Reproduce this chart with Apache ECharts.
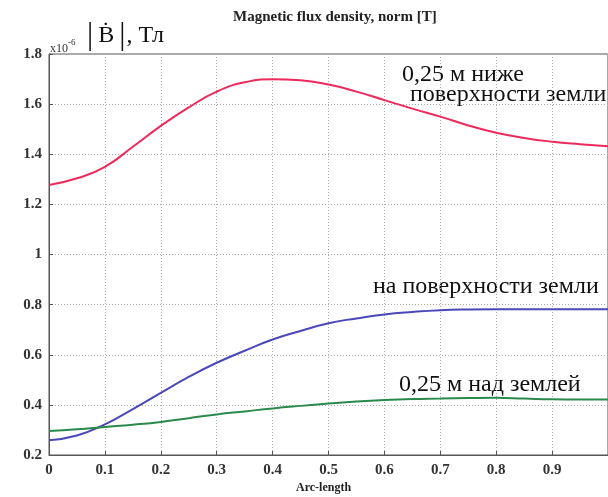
<!DOCTYPE html>
<html>
<head>
<meta charset="utf-8">
<script src="https://cdn.jsdelivr.net/npm/echarts@6/dist/echarts.min.js"></script>
<style>html,body{margin:0;padding:0;background:#fff;}#c{width:608px;height:497px;}</style>
</head>
<body>
<div id="c"></div>
<script>
const arcLength = [0,0.05,0.1,0.15,0.2,0.25,0.3,0.35,0.4,0.45,0.5,0.55,0.6,0.65,0.7,0.75,0.8,0.85,0.9,0.95,1.0];
const below025 = [1.277,1.304,1.35,1.43,1.513,1.587,1.65,1.687,1.699,1.695,1.678,1.65,1.616,1.582,1.55,1.515,1.486,1.465,1.45,1.44,1.432];
const surface = [0.259,0.278,0.322,0.383,0.448,0.512,0.568,0.616,0.661,0.695,0.726,0.745,0.761,0.771,0.778,0.781,0.782,0.782,0.782,0.782,0.782];
const above025 = [0.296,0.303,0.312,0.321,0.332,0.347,0.362,0.374,0.386,0.396,0.405,0.413,0.419,0.423,0.425,0.427,0.428,0.425,0.422,0.421,0.421];
const seriesNames = ['0,25 м ниже поверхности земли','на поверхности земли','0,25 м над землей'];

const pairs = ys => arcLength.map((x,i)=>[x, ys[i]]);
const serif = '"Liberation Serif","DejaVu Serif",serif';
const chart = echarts.init(document.getElementById('c'));
const lineSeries = (name, ys, color) => ({
  name, type:'line', data: pairs(ys), smooth:true, showSymbol:false,
  lineStyle:{color, width:2}, itemStyle:{color}
});
chart.setOption({
  animation:false,
  backgroundColor:'#fff',
  grid:{left:49, right:-5, top:54, bottom:42, show:true, backgroundColor:'#fff', borderColor:'#555', borderWidth:1},
  xAxis:{type:'value', min:0, max:1, interval:0.1,
    axisLine:{show:true, lineStyle:{color:'#555', width:1}},
    axisTick:{show:true, inside:true, length:4, lineStyle:{color:'#555'}},
    axisLabel:{fontFamily:serif, fontWeight:'bold', fontSize:15, color:'#333', margin:8, showMaxLabel:false},
    splitLine:{show:true, lineStyle:{color:'#aaa', type:[1,2], width:1}}
  },
  yAxis:{type:'value', min:0.2, max:1.8, interval:0.2,
    axisLine:{show:true, lineStyle:{color:'#555', width:1}},
    axisTick:{show:true, inside:true, length:4, lineStyle:{color:'#555'}},
    axisLabel:{fontFamily:serif, fontWeight:'bold', fontSize:15, color:'#333', margin:7,
      formatter: v => String(Math.round(v*10)/10)},
    splitLine:{show:true, lineStyle:{color:'#aaa', type:[1,2], width:1}}
  },
  series:[
    lineSeries(seriesNames[0], below025, '#ee2a5c'),
    lineSeries(seriesNames[1], surface, '#4a48b8'),
    lineSeries(seriesNames[2], above025, '#2a8a4c')
  ],
  graphic:[
    {type:'text', left:233, top:10, style:{text:'Magnetic flux density, norm [T]', font:'bold 15px '+serif, fill:'#222'}},
    {type:'text', left:296, top:482, style:{text:'Arc-length', font:'bold 12px '+serif, fill:'#222'}},
    {type:'text', left:50, top:38, style:{text:'{a|x10}{b|-6}', rich:{a:{font:'12px '+serif, fill:'#333', verticalAlign:'bottom'}, b:{font:'9px '+serif, fill:'#333', verticalAlign:'top', padding:[0,0,8,0]}}}},
    {type:'text', left:87, top:20, style:{text:'{p||}{b|Ḃ}{p||}{t|, Тл}', rich:{
      p:{font:'31px '+serif, fill:'#111', padding:[0,1,0,1]},
      b:{font:'24px '+serif, fill:'#111', padding:[0,4,0,4]},
      t:{font:'24px '+serif, fill:'#111'}}}},
    {type:'text', left:402, top:63, style:{text:'0,25 м ниже', font:'24px '+serif, fill:'#111'}},
    {type:'text', left:410, top:83, style:{text:'поверхности земли', font:'24px '+serif, fill:'#111'}},
    {type:'text', left:373, top:275, style:{text:'на поверхности земли', font:'24px '+serif, fill:'#111'}},
    {type:'text', left:399, top:373, style:{text:'0,25 м над землей', font:'24px '+serif, fill:'#111'}}
  ]
});
</script>
</body>
</html>
